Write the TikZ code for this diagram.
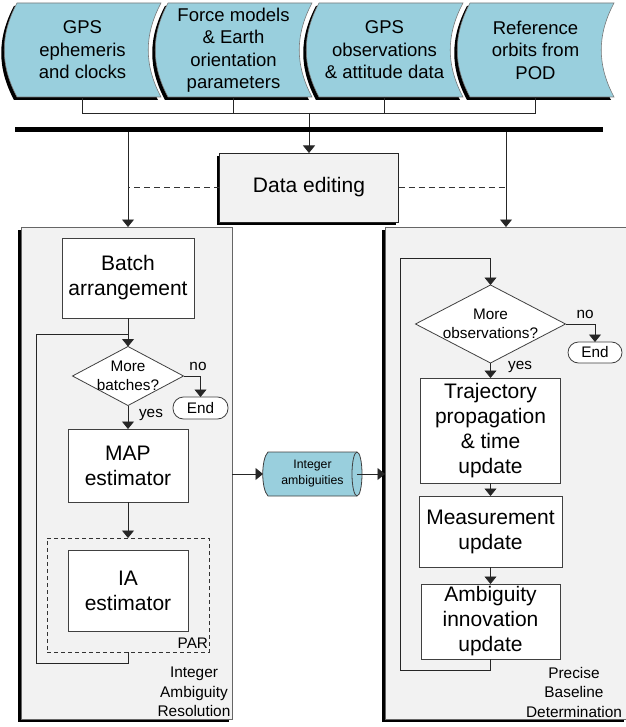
\documentclass[tikz,border=0pt]{standalone}
\usepackage{fontspec}
\setmainfont{Liberation Sans}
\usetikzlibrary{arrows.meta,shapes.geometric,shadows,calc}
\definecolor{tapeblue}{HTML}{99CFDD}
\definecolor{panelgray}{HTML}{F2F2F2}
\definecolor{edge}{HTML}{404040}

\begin{document}
\begin{tikzpicture}[x=1pt,y=-1pt,
  every node/.style={inner sep=0pt, outer sep=0pt},
  line/.style={draw=black!85, line width=0.8pt},
  arr/.style={line, -{Triangle[width=12pt,length=7.5pt]}},
  dashline/.style={draw=black!80, line width=0.8pt, dash pattern=on 6pt off 4pt},
  shadowed/.style={general shadow={fill=black, shadow xshift=-3pt, shadow yshift=-3pt}},
  panel/.style={shadowed, draw=edge!80, fill=panelgray, line width=0.8pt},
  procbox/.style={draw=edge, line width=0.8pt, fill=white, align=center,
                  font=\fontsize{21}{25}\selectfont},
  decision/.style={diamond, draw=edge, line width=0.8pt, fill=white},
  dtext/.style={align=center, font=\fontsize{15.3}{18.5}\selectfont},
  terminal/.style={rectangle, rounded corners=10.5pt, draw=edge, line width=0.8pt,
                   fill=white, font=\fontsize{15.3}{18}\selectfont},
  small/.style={font=\fontsize{15.3}{18}\selectfont},
  lbl/.style={align=center, font=\fontsize{15.4}{19.5}\selectfont},
  tapetext/.style={align=center, font=\fontsize{18.5}{22.5}\selectfont}
]
\useasboundingbox (0,0) rectangle (625,727);

% ---- input data stores (tape shapes with offset shadow) ----
\foreach \lx in {17,168,319,470}{
  \fill[black, shift={(-3,3)}] (\lx,3) -- ({\lx+144},3)
     .. controls ({\lx+127},35) and ({\lx+127},65) .. ({\lx+144},97)
     -- (\lx,97) .. controls ({\lx-17},65) and ({\lx-17},35) .. cycle;
  \filldraw[fill=tapeblue, draw=edge!70, line width=0.6pt] (\lx,3) -- ({\lx+144},3)
     .. controls ({\lx+127},35) and ({\lx+127},65) .. ({\lx+144},97)
     -- (\lx,97) .. controls ({\lx-17},65) and ({\lx-17},35) .. cycle;
}
\node[tapetext, minimum width=144pt, minimum height=94pt] (tape1) at (82.5,50)
  {GPS\\ephemeris\\and clocks};
\node[tapetext, minimum width=144pt, minimum height=94pt] (tape2) at (233.5,50)
  {Force models\\\& Earth\\orientation\\parameters};
\node[tapetext, minimum width=144pt, minimum height=94pt] (tape3) at (384.5,50)
  {GPS\\observations\\\& attitude data};
\node[tapetext, minimum width=144pt, minimum height=94pt] (tape4) at (535.5,50)
  {Reference\\orbits from\\POD};

% ---- collecting bus ----
\node[fill=black, minimum width=588pt, minimum height=5pt] (bar) at (309,130) {};
\coordinate (jn) at (309,113);
\draw[line] (tape1.south) |- (tape4.south |- jn) -- (tape4.south);
\draw[line] (tape2.south) -- (tape2.south |- jn);
\draw[line] (tape3.south) -- (tape3.south |- jn);
\draw[line] (jn) -- (jn |- bar.north);

% ---- panels and data editing ----
\node[panel, minimum width=211pt, minimum height=492pt] (lp) at (126.5,473) {};
\node[panel, minimum width=242pt, minimum height=492pt] (rp) at (506,473) {};
\node[panel, draw=black!85, minimum width=179pt, minimum height=69pt,
      font=\fontsize{21}{25}\selectfont] (de) at (309,187.5) {Data editing};

% ---- integer ambiguity resolution ----
\node[procbox, minimum width=132pt, minimum height=80pt] (batch) at (128,278) {Batch\\arrangement};
\node[decision, minimum width=111pt, minimum height=59pt] (d1) at (128,376) {};
\node[dtext] at (d1) {More\\batches?};
\node[terminal, minimum width=55pt, minimum height=22pt] (end1) at (200.5,408) {End};
\node[procbox, minimum width=120pt, minimum height=73pt] (map) at (128,465.5) {MAP\\estimator};
\node[draw=black!80, line width=0.8pt, dash pattern=on 4pt off 3pt,
      minimum width=162pt, minimum height=114pt] (par) at (128,595) {};
\node[procbox, minimum width=120pt, minimum height=81pt] (ia) at (128,590.5) {IA\\estimator};
\node[small, anchor=east] at (208,643) {PAR};
\node[small] at (198,366) {no};
\node[small] at (151,415) {yes};
\node[lbl] at (194,692) {Integer\\Ambiguity\\Resolution};

% ---- precise baseline determination ----
\node[decision, minimum width=150pt, minimum height=78pt] (d2) at (490.5,324) {};
\node[dtext] at (d2) {More\\observations?};
\node[terminal, minimum width=54pt, minimum height=21pt] (end2) at (595,352.5) {End};
\node[procbox, minimum width=140pt, minimum height=105pt] (traj) at (490.5,430.5)
  {Trajectory\\propagation\\\& time\\update};
\node[procbox, minimum width=143pt, minimum height=71pt] (meas) at (490.5,531.5)
  {Measurement\\update};
\node[procbox, minimum width=139pt, minimum height=75pt] (amb) at (490.5,621.5)
  {Ambiguity\\innovation\\update};
\node[small] at (585,314) {no};
\node[small] at (520,367) {yes};
\node[lbl] at (574,692) {Precise\\Baseline\\Determination};

% ---- ambiguity store between the two stages ----
\fill[tapeblue] (268,452) -- (357,452) arc[start angle=90, end angle=-90, x radius=5pt, y radius=22pt]
  -- (268,496) .. controls (261,489) and (261,459) .. cycle;
\draw[edge, line width=0.8pt] (268,452) -- (357,452) arc[start angle=90, end angle=-90, x radius=5pt, y radius=22pt]
  -- (268,496) .. controls (261,489) and (261,459) .. cycle;
\draw[edge, line width=0.8pt] (357,452) arc[start angle=90, end angle=270, x radius=5pt, y radius=22pt];
\node[align=center, font=\fontsize{12.3}{16}\selectfont, minimum width=99pt, minimum height=44pt]
  (cyl) at (312.5,474) {Integer\\ambiguities};

% ---- connectors ----
\draw[arr] (bar.south -| de.north) -- (de.north);
\draw[arr] (bar.south -| batch.north) -- (batch.north |- lp.north);
\draw[arr] (bar.south -| rp.north) -- (rp.north);
\draw[dashline] (de.west) -- (de.west -| batch.north);
\draw[dashline] (de.east) -- (de.east -| rp.north);

\draw[arr] (batch.south) -- (d1.north);
\draw[arr] (d1.east) -| (end1.north);
\draw[arr] (d1.south) -- (map.north);
\draw[arr] (map.south) -- (par.north);
\coordinate (lx) at (36,334);
\draw[line] (par.south) -- ++(0,11) -| (lx) -- (lx -| batch.south);

\coordinate (rx) at (400,258);
\draw[line] (amb.south) -- ++(0,11) -| (rx) -- (rx -| d2.north);
\draw[arr] (rx -| d2.north) -- (d2.north);
\draw[arr] (d2.east) -| (end2.north);
\draw[arr] (d2.south) -- (traj.north);
\draw[arr] (traj.south) -- (meas.north);
\draw[arr] (meas.south) -- (amb.north);

\draw[arr] (lp.east |- cyl) -- (cyl.west);
\draw[arr] ([xshift=-5pt]cyl.east) -- (rp.west |- cyl);
\end{tikzpicture}
\end{document}
